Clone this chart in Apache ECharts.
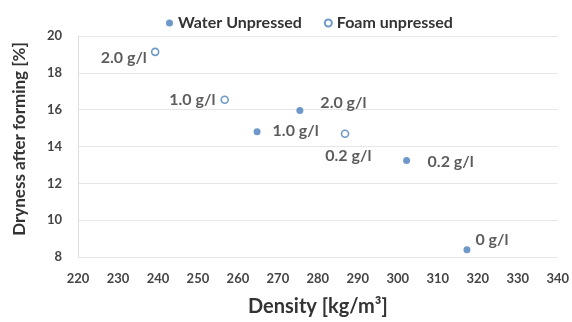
<!DOCTYPE html>
<html><head><meta charset="utf-8">
<script src="https://cdn.jsdelivr.net/npm/echarts@6/dist/echarts.min.js"></script>
<style>html,body{margin:0;padding:0;background:#fff}#c{width:572px;height:322px}</style>
</head><body><div id="c"></div>
<script>
const waterDensity = [275.5, 264.8, 302.2, 317.3];
const waterDryness = [15.96, 14.8, 13.24, 8.39];
const waterLabels = ['2.0 g/l', '1.0 g/l', '0.2 g/l', '0 g/l'];
const foamDensity = [239.3, 256.7, 286.8];
const foamDryness = [19.14, 16.54, 14.69];
const foamLabels = ['2.0 g/l', '1.0 g/l', '0.2 g/l'];
const seriesNames = ['Water Unpressed', 'Foam unpressed'];

const FONT = 'Lato';
const blue = '#4a7ebb';
// label offsets relative to the symbol's bounding box top-left
const waterPos = [[24,-4],[19,3],[24.5,5],[12,-6.5]];
const waterAlign = ['left','left','left','left'];
const foamPos = [[-4,10.5],[-5,4],[-15.5,26]];
const foamAlign = ['right','right','left'];

function pts(xs, ys, labels, pos, align) {
  return xs.map((x, i) => ({
    value: [x, ys[i]],
    label: {show: true, formatter: labels[i], position: pos[i], align: align[i], verticalAlign: 'middle'}
  }));
}
const chart = echarts.init(document.getElementById('c'), null, {renderer: 'canvas'});
chart.setOption({
  animation: false,
  textStyle: {fontFamily: FONT},
  legend: {
    top: 10, left: 161, itemGap: 22, itemWidth: 7, itemHeight: 7,
    textStyle: {fontFamily: FONT, fontSize: 16, fontWeight: 'bold', color: '#333'},
    data: [{name: seriesNames[0], icon: 'circle'}, {name: seriesNames[1], icon: 'circle'}]
  },
  grid: {left: 78, right: 14, top: 36, bottom: 63},
  xAxis: {
    type: 'value', min: 220, max: 340, interval: 10,
    name: 'Density [kg/m³]', nameLocation: 'middle', nameGap: 40,
    nameTextStyle: {fontFamily: FONT, fontSize: 20, fontWeight: 'bold', color: '#333'},
    axisLine: {show: false}, axisTick: {show: false},
    axisLabel: {fontFamily: FONT, fontSize: 13, fontWeight: 'bold', color: '#444', margin: 15},
    splitLine: {show: false}
  },
  yAxis: {
    type: 'value', min: 8, max: 20, interval: 2,
    name: 'Dryness after forming [%]', nameLocation: 'middle', nameGap: 50,
    nameTextStyle: {fontFamily: FONT, fontSize: 17, fontWeight: 'bold', color: '#333', padding: [0, 0, 0, 15]},
    axisLine: {show: true, lineStyle: {color: '#ddd'}}, axisTick: {show: false},
    axisLabel: {fontFamily: FONT, fontSize: 13, fontWeight: 'bold', color: '#444', margin: 16},
    splitLine: {show: true, lineStyle: {color: '#e6e6e6'}}
  },
  series: [
    {
      name: seriesNames[0], type: 'scatter', symbol: 'circle', symbolSize: 7,
      itemStyle: {color: blue},
      label: {fontFamily: FONT, fontSize: 16, fontWeight: 'bold', color: '#333'},
      data: pts(waterDensity, waterDryness, waterLabels, waterPos, waterAlign)
    },
    {
      name: seriesNames[1], type: 'scatter', symbol: 'circle', symbolSize: 7,
      itemStyle: {color: '#fff', borderColor: blue, borderWidth: 1.6},
      label: {fontFamily: FONT, fontSize: 16, fontWeight: 'bold', color: '#333'},
      data: pts(foamDensity, foamDryness, foamLabels, foamPos, foamAlign)
    }
  ]
});
</script></body></html>
